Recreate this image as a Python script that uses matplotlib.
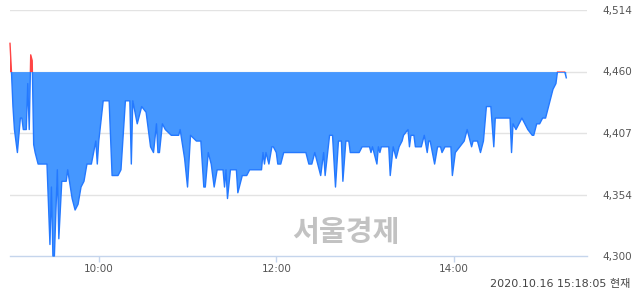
import numpy as np
import matplotlib
matplotlib.use('Agg')
import matplotlib.pyplot as plt
from matplotlib.patches import Rectangle

# intraday price (time, price)
times = ['09:00', '09:01', '09:02', '09:03', '09:05', '09:07', '09:08', '09:09', '09:11',
         '09:12', '09:13', '09:14', '09:15', '09:16', '09:17', '09:19', '09:25', '09:27',
         '09:28', '09:29', '09:30', '09:32', '09:33', '09:35', '09:38', '09:39', '09:42',
         '09:44', '09:46', '09:48', '09:50', '09:52', '09:55', '09:58', '09:59', '10:00',
         '10:03', '10:07', '10:09', '10:13', '10:15', '10:18', '10:21', '10:22', '10:23',
         '10:26', '10:29', '10:32', '10:35', '10:37', '10:39', '10:40', '10:41', '10:43',
         '10:45', '10:49', '10:54', '10:55', '10:58', '11:00', '11:02', '11:06', '11:09',
         '11:11', '11:12', '11:14', '11:16', '11:18', '11:20', '11:24', '11:25', '11:26',
         '11:27', '11:29', '11:33', '11:34', '11:37', '11:40', '11:42', '11:50', '11:51',
         '11:52', '11:53', '11:55', '11:57', '11:58', '12:00', '12:01', '12:03', '12:05',
         '12:20', '12:22', '12:24', '12:26', '12:30', '12:32', '12:33', '12:36', '12:38',
         '12:40', '12:42', '12:44', '12:45', '12:47', '12:49', '12:50', '12:56', '12:58',
         '13:03', '13:04', '13:05', '13:08', '13:09', '13:10', '13:11', '13:16', '13:17',
         '13:19', '13:21', '13:23', '13:25', '13:26', '13:29', '13:30', '13:31', '13:33',
         '13:34', '13:38', '13:40', '13:42', '13:43', '13:44', '13:47', '13:49', '13:51',
         '13:52', '13:54', '13:58', '13:59', '14:01', '14:04', '14:07', '14:09', '14:10',
         '14:12', '14:13', '14:16', '14:18', '14:20', '14:22', '14:25', '14:27', '14:28',
         '14:38', '14:39', '14:40', '14:42', '14:44', '14:46', '14:48', '14:50', '14:53',
         '14:54', '14:56', '14:58', '15:00', '15:02', '15:04', '15:06', '15:07', '15:09',
         '15:10', '15:15', '15:16']
prices = [4485, 4460, 4430, 4410, 4390, 4420, 4420, 4410, 4410,
          4450, 4410, 4475, 4470, 4397, 4390, 4380, 4380, 4310,
          4360, 4300, 4300, 4375, 4315, 4365, 4365, 4375, 4350,
          4340, 4345, 4360, 4365, 4380, 4380, 4400, 4380, 4400,
          4435, 4435, 4370, 4370, 4375, 4435, 4435, 4380, 4435,
          4415, 4430, 4425, 4395, 4390, 4415, 4390, 4390, 4415,
          4410, 4405, 4405, 4410, 4385, 4360, 4405, 4400, 4400,
          4360, 4360, 4390, 4380, 4360, 4375, 4375, 4360, 4375,
          4350, 4375, 4375, 4355, 4370, 4370, 4375, 4375, 4390,
          4380, 4390, 4380, 4395, 4395, 4390, 4380, 4380, 4390,
          4390, 4380, 4380, 4390, 4370, 4390, 4370, 4405, 4405,
          4360, 4400, 4400, 4365, 4400, 4400, 4390, 4390, 4395,
          4395, 4390, 4395, 4380, 4395, 4390, 4395, 4395, 4370,
          4395, 4385, 4395, 4400, 4405, 4410, 4395, 4405, 4405,
          4395, 4395, 4405, 4390, 4400, 4400, 4380, 4395, 4395,
          4390, 4395, 4395, 4370, 4390, 4395, 4400, 4410, 4405,
          4395, 4400, 4400, 4390, 4400, 4430, 4430, 4395, 4420,
          4420, 4390, 4415, 4410, 4415, 4420, 4415, 4410, 4405,
          4405, 4415, 4415, 4420, 4420, 4430, 4440, 4445, 4450,
          4460, 4460, 4455]

prev_close = 4460
y_ticks = [4300, 4353.5, 4407, 4460.5, 4514]
y_labels = ['4,300', '4,354', '4,407', '4,460', '4,514']
x_ticks = ['10:00', '12:00', '14:00']

def to_min(s):
    h, m = s.split(':')
    return (int(h) - 9) * 60 + int(m)

t = np.array([to_min(s) for s in times], dtype=float)
p = np.array(prices, dtype=float)

plt.rcParams['font.family'] = ['DejaVu Sans', 'Noto Sans CJK KR']

fig = plt.figure(figsize=(6.4, 2.94), dpi=100)
ax = fig.add_axes([10/640, 38/294, 577/640, 246/294])

blue_fill = '#4597ff'
blue_line = '#2479ff'
red = '#ff4545'

ax.fill_between(t, p, prev_close, where=p <= prev_close, interpolate=True,
                color=blue_fill, lw=0, zorder=2)
ax.fill_between(t, p, prev_close, where=p >= prev_close, interpolate=True,
                color=red, lw=0, zorder=2)

# line coloured by side of previous close
lo = ax.plot(t, p, color=blue_line, lw=1.0, zorder=3)[0]
hi = ax.plot(t, p, color=red, lw=1.0, zorder=3)[0]
lo.set_clip_path(Rectangle((-10, 4000), 500, prev_close - 4000, transform=ax.transData))
hi.set_clip_path(Rectangle((-10, prev_close), 500, 1000, transform=ax.transData))

ax.set_xlim(0, 390)
ax.set_ylim(4300, 4514)

for v in y_ticks[1:]:
    ax.axhline(v, color='#e3e3e3', lw=1, zorder=1)

ax.set_yticks(y_ticks)
ax.set_yticklabels(y_labels)
ax.yaxis.tick_right()
ax.tick_params(axis='y', length=0, pad=11, labelsize=7.5, labelcolor='#555555')

ax.set_xticks([to_min(s) for s in x_ticks])
ax.set_xticklabels(x_ticks)
ax.tick_params(axis='x', direction='out', length=4, width=1, color='#c5d5ec',
               labelsize=7.5, labelcolor='#555555', pad=2)

for side in ['top', 'left', 'right']:
    ax.spines[side].set_visible(False)
ax.spines['bottom'].set_color('#c5d5ec')
ax.spines['bottom'].set_linewidth(1)

fig.text(346/640, 1 - 232/294, '서울경제', fontsize=21, fontweight='bold',
         color='#c2c2c2', ha='center', va='center', family='Noto Sans CJK KR')
fig.text(630/640, 1 - 284/294, '2020.10.16 15:18:05 현재', fontsize=8,
         color='#444444', ha='right', va='center')

fig.savefig('out.png', dpi=100)
